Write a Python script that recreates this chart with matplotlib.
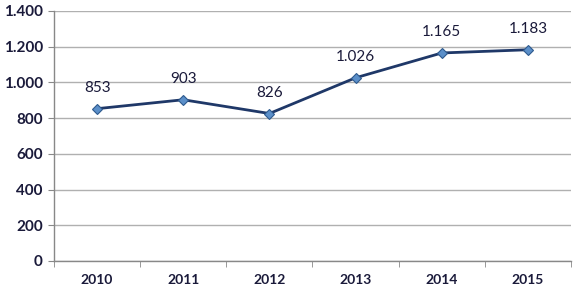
import matplotlib
matplotlib.use("Agg")
import matplotlib.pyplot as plt
import numpy as np

years = ["2010", "2011", "2012", "2013", "2014", "2015"]
values = [853, 903, 826, 1026, 1165, 1183]
labels = ["853", "903", "826", "1.026", "1.165", "1.183"]
yticks = [0, 200, 400, 600, 800, 1000, 1200, 1400]
ytick_labels = ["0", "200", "400", "600", "800", "1.000", "1.200", "1.400"]

plt.rcParams['font.family'] = ['Lato', 'DejaVu Sans']
txt = '#1a1a3a'
fig = plt.figure(figsize=(5.79, 2.91), dpi=100)
ax = fig.add_axes([54/579, 1-261/291, (571-54)/579, 250/291])

x = np.arange(len(years))
ax.plot(x, values, color='#1F3868', lw=2, marker='D', ms=5.5,
        markerfacecolor='#5B8FC9', markeredgecolor='#2E5A8E', markeredgewidth=0.8, zorder=3)
for xi, v, l in zip(x, values, labels):
    ax.annotate(l, (xi, v), xytext=(0, 10), textcoords='offset points',
                ha='center', va='bottom', fontsize=11, color=txt)

ax.set_xlim(-0.5, len(years) - 0.5)
ax.set_ylim(0, 1400)
ax.set_yticks(yticks)
ax.set_yticklabels(ytick_labels, fontsize=11, color=txt, fontweight='bold')
ax.set_xticks(x)
ax.set_xticklabels(years, fontsize=10, color=txt, fontweight='bold')
ax.set_xticks(np.arange(-0.5, len(years)), minor=True)
ax.tick_params(axis='x', which='major', length=0, pad=9)
ax.tick_params(axis='x', which='minor', length=4, color='#888888', direction='out')
ax.tick_params(axis='y', length=4, color='#888888', direction='out', pad=4)
ax.grid(axis='y', color='#b0b0b0', lw=1)
ax.set_axisbelow(True)
for s in ['top', 'right']:
    ax.spines[s].set_visible(False)
for s in ['left', 'bottom']:
    ax.spines[s].set_color('#888888')
    ax.spines[s].set_linewidth(1)

fig.savefig('out.png', dpi=100)
